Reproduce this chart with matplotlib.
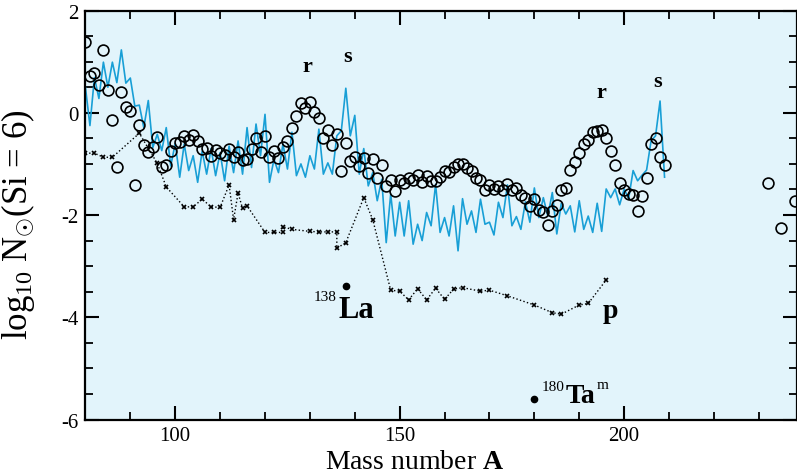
import numpy as np
import matplotlib
matplotlib.use('Agg')
import matplotlib.pyplot as plt
from matplotlib.ticker import MultipleLocator

plt.rcParams['font.family'] = ['Liberation Serif', 'DejaVu Serif']
plt.rcParams['mathtext.fontset'] = 'custom'
plt.rcParams['mathtext.rm'] = 'Liberation Serif'
plt.rcParams['mathtext.it'] = 'Liberation Serif:italic'
plt.rcParams['mathtext.bf'] = 'Liberation Serif:bold'
plt.rcParams['axes.unicode_minus'] = False

# mass numbers 80..209
mass = np.arange(80, 210)

# r-process abundances (open circles)
r_abund = [
    1.39, 0.72, 0.77, 0.54, 1.22, 0.44, -0.14, -1.07, 0.41, 0.12,
    0.03, -1.41, -0.23, -0.63, -0.76, -0.66, -0.48, -1.06, -1.02, -0.75,
    -0.59, -0.58, -0.46, -0.54, -0.44, -0.55, -0.70, -0.68, -0.85, -0.72,
    -0.79, -0.82, -0.70, -0.87, -0.76, -0.92, -0.91, -0.71, -0.50, -0.76,
    -0.45, -0.86, -0.74, -0.88, -0.66, -0.56, -0.30, -0.06, 0.20, 0.09,
    0.22, 0.01, -0.10, -0.50, -0.34, -0.63, -0.42, -1.13, -0.59, -0.95,
    -0.87, -1.04, -0.89, -1.18, -0.90, -1.28, -1.03, -1.43, -1.31, -1.53,
    -1.31, -1.38, -1.27, -1.32, -1.21, -1.36, -1.23, -1.34, -1.34, -1.26,
    -1.13, -1.15, -1.06, -1.01, -1.00, -1.08, -1.13, -1.27, -1.32, -1.51,
    -1.41, -1.50, -1.43, -1.51, -1.40, -1.51, -1.48, -1.61, -1.66, -1.83,
    -1.69, -1.91, -1.95, -2.19, -1.92, -1.81, -1.51, -1.48, -1.12, -0.96,
    -0.79, -0.62, -0.53, -0.38, -0.35, -0.33, -0.50, -0.75, -1.02, -1.38,
    -1.51, -1.58, -1.60, -1.92, -1.62, -1.27, -0.61, -0.50, -0.87, -1.02,
]

# Th and U
act_mass = [232, 235, 238]
act_abund = [-1.37, -2.25, -1.73]

# s-process abundances (blue line)
s_abund = [
    0.50, -0.25, 0.69, 0.28, 0.99, 0.50, 0.99, 0.59, 1.23, 0.58,
    0.68, 0.13, 0.15, -0.29, 0.24, -0.68, -0.42, -0.74, -0.29, -1.04,
    -0.60, -1.26, -0.61, -1.13, -0.84, -1.36, -0.75, -1.20, -0.70, -1.23,
    -0.78, -1.33, -0.65, -1.17, -0.55, -1.20, -0.29, -1.07, -0.22, -0.84,
    -0.03, -1.36, -0.91, -1.17, -0.61, -1.10, -0.38, -1.23, -1.00, -1.26,
    -0.84, -1.10, -0.32, -1.20, -0.98, -1.20, -0.45, -0.35, 0.48, -0.45,
    -0.05, -1.20, -0.70, -1.43, -1.17, -1.72, -1.30, -2.54, -1.59, -2.41,
    -1.75, -2.41, -1.72, -2.57, -2.18, -2.50, -1.95, -2.21, -1.40, -2.34,
    -2.05, -2.41, -1.82, -2.70, -1.68, -2.18, -1.92, -2.34, -1.69, -2.18,
    -2.14, -2.39, -1.75, -2.05, -1.41, -2.21, -2.03, -2.28, -1.74, -2.14,
    -1.47, -2.05, -1.66, -2.02, -1.56, -2.37, -1.77, -1.98, -1.82, -2.33,
    -1.72, -2.28, -2.02, -2.34, -1.77, -2.32, -1.49, -1.66, -1.49, -1.80,
    -1.49, -1.68, -1.13, -1.33, -1.22, -1.12, -0.55, -0.45, 0.23, -1.26,
]

# p-process abundances (dotted, crosses)
p_mass = [80, 82, 84, 86, 92, 96, 98, 102, 104, 106, 108, 110, 112, 113,
          114, 115, 116, 120, 122, 124, 124, 126, 130, 132, 134, 136, 136,
          138, 142, 144, 148, 150, 152, 154, 156, 158, 160, 162, 164, 168,
          170, 174, 180, 184, 186, 190, 192, 196]
p_abund = [-0.79, -0.79, -0.87, -0.87, -0.40, -0.99, -1.45, -1.84, -1.84,
           -1.69, -1.84, -1.85, -1.41, -2.09, -1.57, -1.87, -1.82, -2.34,
           -2.34, -2.34, -2.23, -2.28, -2.32, -2.33, -2.33, -2.33, -2.65,
           -2.54, -1.66, -2.09, -3.47, -3.49, -3.66, -3.44, -3.66, -3.43,
           -3.65, -3.45, -3.42, -3.49, -3.47, -3.58, -3.76, -3.91, -3.94,
           -3.76, -3.73, -3.27]

# odd-odd isotopes
la_mass, la_abund = 138, -3.39
ta_mass, ta_abund = 180, -5.60

fig = plt.figure(figsize=(7.97, 4.77), dpi=100)
ax = fig.add_axes([0.1072, 0.1184, 0.8922, 0.8574])
ax.set_facecolor('#e2f4fb')

ax.plot(mass, s_abund, color='#189fd6', lw=1.2, zorder=2)
ax.plot(p_mass, p_abund, color='black', ls=':', lw=1.0,
        marker='x', ms=3.5, mew=1.2, zorder=3)
ax.plot(mass, r_abund, 'o', mfc='none', mec='black', ms=7.8, mew=1.2, zorder=4)
ax.plot(act_mass, act_abund, 'o', mfc='none', mec='black', ms=7.8, mew=1.2, zorder=4)
ax.plot([la_mass, ta_mass], [la_abund, ta_abund], 'o', color='black', ms=4.5, zorder=5)

# process labels
for a, y, s in [(129.35, 0.82, 'r'), (138.5, 1.01, 's'),
                (194.9, 0.31, 'r'), (207.5, 0.52, 's')]:
    ax.text(a, y, s, fontsize=16, fontweight='bold', ha='center', va='baseline')
ax.text(195.3, -4.0, 'p', fontsize=20, fontweight='bold', va='baseline')

ax.text(136.0, -3.67, '138', fontsize=11, ha='right', va='baseline')
ax.text(136.3, -4.0, 'La', fontsize=22, fontweight='bold', va='baseline')
ax.text(186.8, -5.43, '180', fontsize=11, ha='right', va='baseline')
ax.text(187.0, -5.66, 'Ta', fontsize=20, fontweight='bold', va='baseline')
ax.text(193.9, -5.39, 'm', fontsize=11, va='baseline')

ax.set_xlim(80, 238.4)
ax.set_ylim(-6, 2)
ax.xaxis.set_major_locator(MultipleLocator(50))
ax.xaxis.set_minor_locator(MultipleLocator(10))
ax.yaxis.set_major_locator(MultipleLocator(2))
ax.yaxis.set_minor_locator(MultipleLocator(0.5))
ax.tick_params(which='both', direction='in', top=True, right=True, labelsize=15)
ax.tick_params(which='major', length=10, width=1.5, pad=5)
ax.tick_params(which='minor', length=6, width=1.3)
for sp in ax.spines.values():
    sp.set_linewidth(1.6)

ax.set_xlabel(r'Mass number $\mathbf{A}$', fontsize=20)
ax.xaxis.set_label_coords(0.4635, -0.072)
ax.set_ylabel(r'log$_{10}$ N$_{\odot}$(Si = 6)', fontsize=25)
ax.yaxis.set_label_coords(-0.068, 0.48)

fig.savefig('out.png', dpi=100)
